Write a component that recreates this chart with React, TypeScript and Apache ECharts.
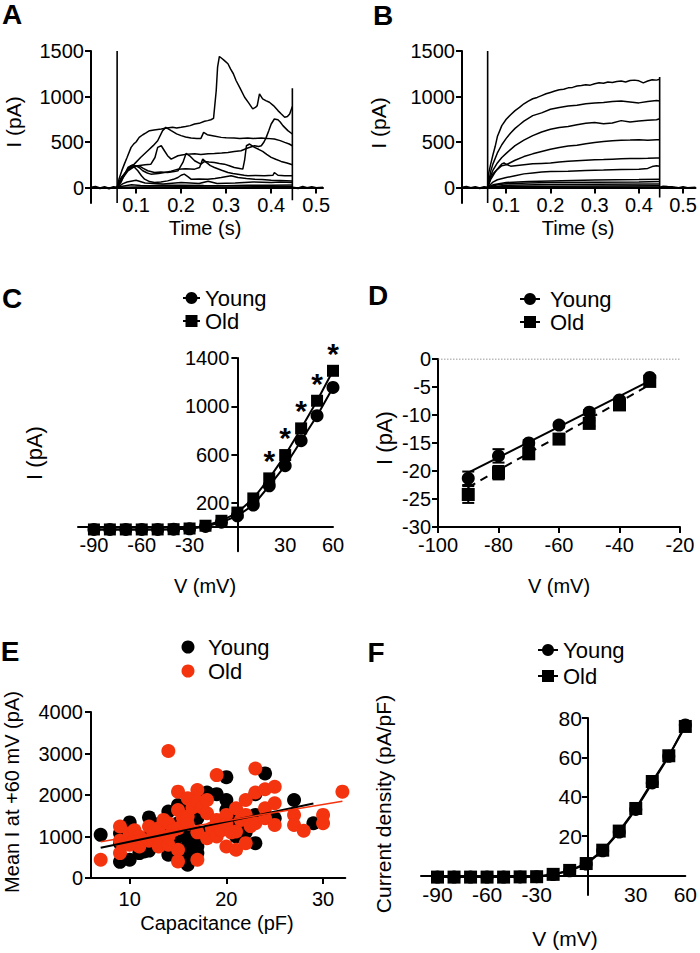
import React, { useEffect, useRef } from 'react';
import * as echarts from 'echarts';

const FONT = '"Liberation Sans", Arial, Helvetica, sans-serif';
const RED = '#f4330f';

// ---------- Panel A (young cell raw traces) ----------
const aTicksX = [0.1, 0.2, 0.3, 0.4, 0.5];
const aTicksY = [0, 500, 1000, 1500];
const aBaseline1 = [[0, 0], [0.01, 10], [0.02, -8], [0.03, 6], [0.04, -10], [0.05, 5], [0.058, 0]];
const aBaseline2 = [[0.447, 0], [0.46, -8], [0.47, 8], [0.48, -6], [0.49, 7], [0.5, -5], [0.515, 0]];
const aStimOn = [[0.058, -170], [0.058, 1500]];
const aStimOff = [[0.447, -140], [0.447, 1090]];
const aTrace1 = [[0.058, 0], [0.062, 90], [0.068, 180], [0.074, 257], [0.08, 330], [0.089, 441], [0.095, 480], [0.1, 500], [0.107, 551], [0.115, 580], [0.122, 600], [0.13, 625], [0.14, 632], [0.156, 643], [0.165, 650], [0.181, 662], [0.19, 655], [0.2, 662], [0.21, 670], [0.22, 680], [0.23, 698], [0.24, 705], [0.252, 728], [0.259, 735], [0.266, 745], [0.272, 760], [0.278, 1066], [0.281, 1323], [0.285, 1440], [0.29, 1420], [0.295, 1400], [0.304, 1360], [0.31, 1300], [0.316, 1250], [0.322, 1176], [0.33, 1100], [0.341, 992], [0.35, 930], [0.359, 864], [0.365, 880], [0.369, 900], [0.374, 1029], [0.381, 974], [0.388, 955], [0.396, 937], [0.405, 900], [0.415, 845], [0.422, 810], [0.43, 772], [0.436, 780], [0.441, 808], [0.447, 889]];
const aTrace2 = [[0.058, 0], [0.065, 80], [0.074, 147], [0.085, 210], [0.096, 257], [0.11, 330], [0.126, 404], [0.138, 460], [0.148, 514], [0.159, 625], [0.166, 661], [0.178, 625], [0.19, 590], [0.2, 570], [0.21, 556], [0.222, 544], [0.235, 540], [0.244, 540], [0.25, 606], [0.258, 580], [0.27, 570], [0.289, 551], [0.3, 548], [0.318, 544], [0.33, 540], [0.348, 544], [0.36, 538], [0.378, 544], [0.39, 540], [0.407, 533], [0.42, 515], [0.43, 496], [0.44, 478], [0.447, 459]];
const aTrace3 = [[0.058, 0], [0.07, 100], [0.082, 184], [0.093, 220], [0.104, 239], [0.12, 250], [0.133, 257], [0.142, 330], [0.148, 441], [0.156, 459], [0.163, 404], [0.17, 350], [0.178, 312], [0.193, 349], [0.205, 360], [0.215, 367], [0.23, 372], [0.244, 364], [0.26, 372], [0.274, 375], [0.29, 380], [0.304, 386], [0.318, 395], [0.333, 404], [0.348, 434], [0.363, 459], [0.372, 450], [0.378, 459], [0.384, 500], [0.389, 551], [0.395, 630], [0.4, 698], [0.407, 753], [0.415, 745], [0.42, 720], [0.426, 680], [0.432, 650], [0.437, 625], [0.447, 588]];
const aTrace4 = [[0.058, 0], [0.067, 110], [0.078, 170], [0.089, 220], [0.098, 235], [0.107, 239], [0.116, 210], [0.126, 184], [0.141, 165], [0.155, 170], [0.17, 165], [0.185, 175], [0.193, 184], [0.204, 276], [0.211, 375], [0.219, 349], [0.23, 294], [0.244, 257], [0.252, 287], [0.262, 280], [0.274, 276], [0.285, 265], [0.296, 257], [0.307, 240], [0.318, 220], [0.33, 210], [0.337, 202], [0.341, 300], [0.345, 459], [0.352, 478], [0.363, 441], [0.372, 420], [0.381, 397], [0.39, 365], [0.4, 331], [0.41, 310], [0.422, 287], [0.435, 270], [0.447, 250]];
const aTrace5 = [[0.058, 0], [0.066, 90], [0.074, 147], [0.082, 200], [0.089, 239], [0.1, 239], [0.108, 215], [0.115, 184], [0.125, 160], [0.133, 147], [0.15, 155], [0.163, 165], [0.178, 180], [0.193, 202], [0.21, 205], [0.23, 202], [0.241, 220], [0.248, 312], [0.256, 276], [0.265, 240], [0.274, 220], [0.29, 190], [0.304, 165], [0.315, 155], [0.326, 147], [0.34, 135], [0.348, 129], [0.365, 132], [0.385, 129], [0.404, 135], [0.407, 165], [0.415, 135], [0.43, 130], [0.447, 129]];
const aTrace6 = [[0.058, 0], [0.067, 60], [0.075, 150], [0.082, 220], [0.092, 250], [0.098, 215], [0.104, 184], [0.112, 130], [0.119, 92], [0.13, 65], [0.141, 55], [0.155, 62], [0.17, 73], [0.183, 90], [0.193, 110], [0.2, 135], [0.207, 147], [0.215, 120], [0.222, 92], [0.24, 95], [0.259, 92], [0.275, 100], [0.289, 110], [0.311, 129], [0.326, 110], [0.345, 100], [0.363, 92], [0.38, 88], [0.4, 81], [0.42, 78], [0.447, 73]];
const aTrace7 = [[0.058, 0], [0.07, 40], [0.08, 60], [0.1, 80], [0.12, 50], [0.14, 45], [0.16, 40], [0.18, 48], [0.2, 55], [0.22, 50], [0.24, 45], [0.26, 70], [0.28, 45], [0.3, 48], [0.32, 50], [0.34, 55], [0.36, 60], [0.38, 58], [0.4, 55], [0.42, 60], [0.447, 55]];
const aTrace8 = [[0.058, 0], [0.07, 15], [0.09, 30], [0.11, 22], [0.13, 20], [0.16, 24], [0.2, 25], [0.25, 22], [0.3, 20], [0.35, 24], [0.4, 25], [0.447, 28]];
const aTrace9 = [[0.058, 0], [0.1, 6], [0.2, 8], [0.3, 7], [0.447, 10]];

// ---------- Panel B (old cell raw traces) ----------
const bTicksX = [0.1, 0.2, 0.3, 0.4, 0.5];
const bTicksY = [0, 500, 1000, 1500];
const bBaseline1 = [[0, 0], [0.01, 8], [0.02, -6], [0.03, 7], [0.04, -8], [0.05, 6], [0.058, 0]];
const bBaseline2 = [[0.447, 0], [0.455, 12], [0.465, 8], [0.475, 5], [0.49, -5], [0.5, 6], [0.51, -4], [0.528, 0]];
const bStimOn = [[0.058, -170], [0.058, 1500]];
const bStimOff = [[0.447, -110], [0.447, 1215]];
const bTrace1 = [[0.058, 0], [0.06, 150], [0.065, 260], [0.07, 360], [0.075, 450], [0.08, 560], [0.09, 680], [0.1, 750], [0.11, 800], [0.12, 845], [0.13, 880], [0.14, 920], [0.15, 950], [0.16, 975], [0.17, 990], [0.18, 1010], [0.19, 1030], [0.2, 1045], [0.21, 1060], [0.22, 1075], [0.23, 1080], [0.24, 1095], [0.25, 1100], [0.26, 1115], [0.27, 1120], [0.28, 1130], [0.29, 1125], [0.3, 1140], [0.31, 1150], [0.32, 1145], [0.33, 1160], [0.34, 1155], [0.35, 1165], [0.36, 1170], [0.37, 1160], [0.38, 1175], [0.39, 1180], [0.4, 1172], [0.41, 1150], [0.42, 1170], [0.43, 1185], [0.44, 1180], [0.447, 1190]];
const bTrace2 = [[0.058, 0], [0.065, 180], [0.07, 260], [0.08, 380], [0.09, 470], [0.1, 540], [0.11, 600], [0.12, 650], [0.13, 690], [0.14, 730], [0.15, 760], [0.16, 790], [0.18, 820], [0.2, 860], [0.22, 880], [0.24, 895], [0.26, 905], [0.28, 920], [0.3, 930], [0.32, 935], [0.34, 945], [0.36, 950], [0.38, 940], [0.4, 930], [0.42, 945], [0.44, 955], [0.447, 950]];
const bTrace3 = [[0.058, 0], [0.065, 130], [0.07, 190], [0.08, 270], [0.09, 330], [0.1, 375], [0.12, 460], [0.14, 520], [0.16, 570], [0.18, 610], [0.2, 640], [0.22, 660], [0.24, 670], [0.26, 690], [0.28, 705], [0.3, 715], [0.32, 700], [0.34, 710], [0.36, 735], [0.38, 720], [0.4, 730], [0.42, 740], [0.44, 745], [0.447, 755]];
const bTrace4 = [[0.058, 0], [0.065, 110], [0.07, 150], [0.08, 200], [0.09, 240], [0.1, 250], [0.12, 300], [0.14, 340], [0.16, 370], [0.18, 395], [0.2, 420], [0.22, 440], [0.24, 455], [0.26, 465], [0.28, 480], [0.3, 495], [0.32, 505], [0.34, 515], [0.36, 520], [0.38, 522], [0.4, 525], [0.42, 520], [0.44, 525], [0.447, 525]];
const bTrace5 = [[0.058, 0], [0.065, 90], [0.075, 170], [0.085, 230], [0.09, 260], [0.095, 270], [0.1, 255], [0.11, 235], [0.12, 240], [0.14, 250], [0.16, 260], [0.18, 265], [0.2, 270], [0.22, 280], [0.24, 290], [0.26, 295], [0.28, 300], [0.3, 305], [0.32, 308], [0.34, 312], [0.36, 315], [0.38, 318], [0.4, 320], [0.42, 322], [0.44, 325], [0.447, 325]];
const bTrace6 = [[0.058, 0], [0.07, 60], [0.08, 85], [0.1, 110], [0.12, 130], [0.14, 150], [0.16, 160], [0.18, 170], [0.2, 175], [0.24, 180], [0.28, 188], [0.32, 192], [0.36, 198], [0.4, 202], [0.42, 210], [0.43, 230], [0.44, 240], [0.447, 235]];
const bTrace7 = [[0.058, 0], [0.07, 30], [0.1, 55], [0.15, 65], [0.2, 72], [0.25, 78], [0.3, 82], [0.35, 85], [0.4, 88], [0.447, 92]];
const bTrace8 = [[0.058, 0], [0.08, 30], [0.1, 42], [0.15, 50], [0.2, 55], [0.3, 58], [0.4, 62], [0.447, 66]];
const bTrace9 = [[0.058, 0], [0.1, 25], [0.2, 32], [0.3, 35], [0.447, 38]];
const bTrace10 = [[0.058, 0], [0.1, 12], [0.2, 15], [0.3, 18], [0.447, 20]];
const bTrace11 = [[0.058, 0], [0.2, 5], [0.447, 6]];

// ---------- Panel C (I-V, pA) ----------
const voltages = [-90, -80, -70, -60, -50, -40, -30, -20, -10, 0, 10, 20, 30, 40, 50, 60];
const cYoung = [-20, -20, -20, -20, -20, -18, -15, 5, 40, 93, 182, 342, 508, 715, 922, 1156];
const cOld = [-20, -20, -20, -20, -20, -18, -12, 11, 52, 120, 237, 403, 596, 817, 1046, 1294];
const cSignificant = [20, 30, 40, 50, 60];
const cTicksX = [-90, -60, -30, 30, 60];
const cTicksY = [200, 600, 1000, 1400];

// ---------- Panel D (hyperpolarised I-V) ----------
const dV = [-90, -80, -70, -60, -50, -40, -30];
const dYoung = [-21.3, -17.3, -15.0, -11.8, -9.5, -7.3, -3.3];
const dYoungErr = [1.2, 1.2, 0.5, 0.4, 0.4, 0.4, 0.4];
const dOld = [-24.2, -20.3, -16.9, -14.3, -11.5, -8.2, -4.0];
const dOldErr = [1.5, 1.2, 1.0, 0.5, 0.5, 0.6, 0.5];
const dYoungFit = [[-90, -20.3], [-30, -3.9]];
const dOldFit = [[-90, -22.9], [-30, -4.6]];
const dZero = [[-100, 0], [-20, 0]];
const dTicksX = [-100, -80, -60, -40, -20];
const dTicksY = [0, -5, -10, -15, -20, -25, -30];

// ---------- Panel E (current vs capacitance) ----------
const eYoung = [[7, 1040], [9, 390], [9, 840], [9, 1080], [10, 440], [10, 1340], [10, 900], [11, 600], [11, 920], [11.5, 640], [12, 660], [12, 1460], [12, 1000], [13, 1300], [13, 820], [13, 1100], [14, 560], [14, 1600], [14, 1200], [14, 900], [15, 1760], [15, 1320], [15, 1000], [15, 700], [16, 320], [16, 640], [16, 920], [16, 1640], [16, 1200], [16, 500], [17, 760], [17, 920], [17, 1440], [17, 600], [18, 2060], [18, 1100], [19, 2020], [19, 1250], [20, 2430], [20, 1880], [20, 1640], [20, 1200], [21, 1000], [21, 1260], [21, 1500], [22, 1100], [23, 840], [23, 2020], [23, 1520], [24, 2520], [25, 1440], [27, 1880], [29, 1320]];
const eOld = [[7, 440], [9, 1240], [9, 600], [9, 900], [10, 1080], [10, 800], [10.5, 1150], [11, 760], [11, 1000], [12, 1240], [12, 900], [12.5, 1100], [13, 960], [13, 760], [13, 1200], [13.5, 1400], [14, 3060], [14, 1320], [14, 1000], [14, 800], [14.5, 1150], [15, 2080], [15, 1640], [15, 680], [15, 400], [15, 1200], [15.5, 1450], [16, 1920], [16, 1480], [16, 1300], [16.5, 1700], [17, 2120], [17, 1840], [17, 440], [17, 1100], [17.5, 1700], [18, 1880], [18, 1560], [18, 960], [18.5, 1200], [19, 2480], [19, 1400], [19, 1000], [19.5, 1150], [20, 1520], [20, 760], [20, 1300], [20.5, 1100], [21, 1680], [21, 680], [21, 1120], [21.5, 1400], [22, 1880], [22, 840], [22, 1520], [22.5, 1250], [23, 2640], [23, 2060], [23, 1320], [24, 2140], [24, 1680], [24, 1440], [25, 2200], [25, 1800], [25, 1280], [27, 1520], [27, 1280], [28, 1140], [30, 1520], [30, 1320], [32, 2080]];
const eYoungFit = [[7, 728], [29, 1794]];
const eOldFit = [[7, 873], [32, 1850]];
const eTicksX = [10, 20, 30];
const eTicksY = [0, 1000, 2000, 3000, 4000];

// ---------- Panel F (current density) ----------
const fYoung = [-0.9, -0.9, -0.9, -0.9, -0.9, -0.8, -0.7, 0.4, 2.3, 5.7, 12.5, 22, 33.5, 47, 60.5, 76.5];
const fOld = [-0.9, -0.9, -0.9, -0.9, -0.9, -0.8, -0.7, 0.5, 2.5, 6, 12.8, 22.5, 34, 47.7, 60.8, 75.7];
const fTicksX = [-90, -60, -30, 30, 60];
const fTicksY = [20, 40, 60, 80];

const pairs = (xs: number[], ys: number[]) => xs.map((x, i) => [x, ys[i]]);

// grid geometry (pixels) and axis ranges
const GRIDS = [
  { left: 91, top: 51, width: 232, height: 152 },
  { left: 462, top: 51, width: 237.6, height: 152 },
  { left: 78, top: 358, width: 255, height: 193.2 },
  { left: 438, top: 359, width: 242, height: 168 },
  { left: 91, top: 712, width: 254.3, height: 166 },
  { left: 421, top: 718, width: 267, height: 177 },
];
const XR = [[0, 0.515], [0, 0.528], [-100, 60], [-100, -20], [6, 32.3], [-100, 60]];
const YR = [[-170, 1500], [-170, 1500], [-200, 1400], [-30, 0], [0, 4000], [-10, 80]];

// offset that puts an axis through the other axis' zero (labels move with it)
const xZeroOffset = (g: number) => {
  const [a, b] = YR[g];
  if (a >= 0 || b <= 0) return 0;
  return -GRIDS[g].height * (0 - a) / (b - a);
};
const yZeroOffset = (g: number) => {
  const [a, b] = XR[g];
  if (a >= 0 || b <= 0) return 0;
  return -GRIDS[g].width * (0 - a) / (b - a);
};

const axis = (fs: number, margin: number, vals: number[], ticks = true) => ({
  type: 'value',
  axisLine: { show: true, onZero: false, lineStyle: { color: '#000', width: 2 } },
  axisTick: { show: ticks, length: 6, customValues: vals, lineStyle: { color: '#000', width: 2 } },
  axisLabel: {
    show: true, customValues: vals, margin, color: '#000', fontSize: fs, fontFamily: FONT,
    formatter: (v: number) => String(v),
  },
  splitLine: { show: false },
});

const traceSeries = (data: number[][], g: number, w = 1.5) => ({
  type: 'line', data, xAxisIndex: g, yAxisIndex: g, symbol: 'none', silent: true,
  lineStyle: { color: '#000', width: w }, z: 3,
});

const txt = (text: string, x: number, y: number, fs: number, opts: any = {}) => ({
  type: 'text', x, y, rotation: opts.rotation || 0, z: 100,
  style: {
    text, fontSize: fs, fontFamily: FONT, fontWeight: opts.bold ? 'bold' : 'normal', fill: opts.fill || '#000',
    align: opts.align || 'center', verticalAlign: 'middle',
  },
});

const lineLegend = (x1: number, x2: number, y: number, marker: 'circle' | 'rect') => {
  const cx = (x1 + x2) / 2;
  const els: any[] = [{ type: 'line', z: 100, shape: { x1, y1: y, x2, y2: y }, style: { stroke: '#000', lineWidth: 2 } }];
  if (marker === 'circle') els.push({ type: 'circle', z: 101, shape: { cx, cy: y, r: 6 }, style: { fill: '#000' } });
  else els.push({ type: 'rect', z: 101, shape: { x: cx - 6, y: y - 6, width: 12, height: 12 }, style: { fill: '#000' } });
  return els;
};

export default function App() {
  const ref = useRef<HTMLDivElement>(null);
  useEffect(() => {
    const chart = echarts.init(ref.current!, null, { renderer: 'svg' });

    const errRender = (params: any, api: any) => {
      const x = api.value(0), y = api.value(1), e = api.value(2);
      const t = api.coord([x, y + e]);
      const b = api.coord([x, y - e]);
      const st = { stroke: '#000', lineWidth: 2 };
      return {
        type: 'group',
        children: [
          { type: 'line', shape: { x1: t[0], y1: t[1], x2: b[0], y2: b[1] }, style: st },
          { type: 'line', shape: { x1: t[0] - 6, y1: t[1], x2: t[0] + 6, y2: t[1] }, style: st },
          { type: 'line', shape: { x1: b[0] - 6, y1: b[1], x2: b[0] + 6, y2: b[1] }, style: st },
        ],
      };
    };

    const xFs = [20, 20, 20, 20, 20, 21];
    const xMargin = [7, 7, 8, 8, 11, 9];
    const yMargin = [7, 7, 8, 7, 8, 6];
    const xTicks = [aTicksX, bTicksX, cTicksX, dTicksX, eTicksX, fTicksX];
    const yTicks = [aTicksY, bTicksY, cTicksY, dTicksY, eTicksY, fTicksY];
    const xTickShow = [true, true, false, true, true, false];

    const option: any = {
      animation: false,
      backgroundColor: '#fff',
      grid: GRIDS,
      xAxis: GRIDS.map((_, g) => ({
        ...axis(xFs[g], xMargin[g], xTicks[g], xTickShow[g]),
        gridIndex: g, min: XR[g][0], max: XR[g][1], offset: xZeroOffset(g),
      })),
      yAxis: GRIDS.map((_, g) => ({
        ...axis(xFs[g], yMargin[g], yTicks[g], true),
        gridIndex: g, min: YR[g][0], max: YR[g][1], offset: yZeroOffset(g),
      })),
      series: [
        // A
        traceSeries(aBaseline1, 0, 2), traceSeries(aBaseline2, 0, 2),
        traceSeries(aStimOn, 0, 1.6), traceSeries(aStimOff, 0, 1.6),
        traceSeries(aTrace1, 0), traceSeries(aTrace2, 0), traceSeries(aTrace3, 0), traceSeries(aTrace4, 0),
        traceSeries(aTrace5, 0), traceSeries(aTrace6, 0), traceSeries(aTrace7, 0), traceSeries(aTrace8, 0), traceSeries(aTrace9, 0),
        // B
        traceSeries(bBaseline1, 1, 2), traceSeries(bBaseline2, 1, 2),
        traceSeries(bStimOn, 1, 1.6), traceSeries(bStimOff, 1, 1.6),
        traceSeries(bTrace1, 1), traceSeries(bTrace2, 1), traceSeries(bTrace3, 1), traceSeries(bTrace4, 1),
        traceSeries(bTrace5, 1), traceSeries(bTrace6, 1), traceSeries(bTrace7, 1), traceSeries(bTrace8, 1),
        traceSeries(bTrace9, 1), traceSeries(bTrace10, 1), traceSeries(bTrace11, 1),
        // C
        {
          type: 'line', name: 'Young', xAxisIndex: 2, yAxisIndex: 2, data: pairs(voltages, cYoung),
          symbol: 'circle', symbolSize: 13, itemStyle: { color: '#000' }, lineStyle: { color: '#000', width: 2 }, z: 3,
        },
        {
          type: 'line', name: 'Old', xAxisIndex: 2, yAxisIndex: 2, data: pairs(voltages, cOld),
          symbol: 'rect', symbolSize: 12, itemStyle: { color: '#000' }, lineStyle: { color: '#000', width: 2 }, z: 4,
        },
        {
          type: 'scatter', xAxisIndex: 2, yAxisIndex: 2, silent: true,
          data: cSignificant.map((v) => [v, cOld[voltages.indexOf(v)]]),
          symbol: 'circle', symbolSize: 1, itemStyle: { color: '#000', opacity: 0 },
          label: {
            show: true, formatter: '*', position: 'top', distance: 0, offset: [0, -2], color: '#000', opacity: 1,
            fontSize: 30, fontWeight: 'bold', fontFamily: FONT, textBorderWidth: 0, textBorderColor: 'transparent',
          },
          z: 5,
        },
        // D
        {
          type: 'line', xAxisIndex: 3, yAxisIndex: 3, data: dZero, symbol: 'none', silent: true,
          lineStyle: { color: '#777', width: 1, type: [1.5, 1.5] }, z: 2,
        },
        {
          type: 'line', xAxisIndex: 3, yAxisIndex: 3, data: dYoungFit, symbol: 'none', silent: true,
          lineStyle: { color: '#000', width: 2 }, z: 3,
        },
        {
          type: 'line', xAxisIndex: 3, yAxisIndex: 3, data: dOldFit, symbol: 'none', silent: true,
          lineStyle: { color: '#000', width: 2, type: [8, 6] }, z: 3,
        },
        {
          type: 'custom', xAxisIndex: 3, yAxisIndex: 3, renderItem: errRender, silent: true,
          data: dV.map((v, i) => [v, dYoung[i], dYoungErr[i]]), z: 4,
        },
        {
          type: 'custom', xAxisIndex: 3, yAxisIndex: 3, renderItem: errRender, silent: true,
          data: dV.map((v, i) => [v, dOld[i], dOldErr[i]]), z: 4,
        },
        {
          type: 'scatter', xAxisIndex: 3, yAxisIndex: 3, data: pairs(dV, dYoung), symbol: 'circle', symbolSize: 13,
          itemStyle: { color: '#000', opacity: 1 }, z: 5,
        },
        {
          type: 'scatter', xAxisIndex: 3, yAxisIndex: 3, data: pairs(dV, dOld), symbol: 'rect', symbolSize: 13,
          itemStyle: { color: '#000', opacity: 1 }, z: 5,
        },
        // E
        {
          type: 'scatter', xAxisIndex: 4, yAxisIndex: 4, data: eYoung, symbol: 'circle', symbolSize: 14,
          itemStyle: { color: '#000', opacity: 1 }, z: 3,
        },
        {
          type: 'scatter', xAxisIndex: 4, yAxisIndex: 4, data: eOld, symbol: 'circle', symbolSize: 14,
          itemStyle: { color: RED, opacity: 1 }, z: 4,
        },
        {
          type: 'line', xAxisIndex: 4, yAxisIndex: 4, data: eYoungFit, symbol: 'none', silent: true,
          lineStyle: { color: '#000', width: 2 }, z: 5,
        },
        {
          type: 'line', xAxisIndex: 4, yAxisIndex: 4, data: eOldFit, symbol: 'none', silent: true,
          lineStyle: { color: RED, width: 1.6 }, z: 5,
        },
        // F
        {
          type: 'line', xAxisIndex: 5, yAxisIndex: 5, data: pairs(voltages, fYoung),
          symbol: 'circle', symbolSize: 13, itemStyle: { color: '#000' }, lineStyle: { color: '#000', width: 2 }, z: 3,
        },
        {
          type: 'line', xAxisIndex: 5, yAxisIndex: 5, data: pairs(voltages, fOld),
          symbol: 'rect', symbolSize: 13, itemStyle: { color: '#000' }, lineStyle: { color: '#000', width: 2 }, z: 4,
        },
      ],
      graphic: [
        // panel letters
        txt('A', 12, 14, 28, { bold: true }),
        txt('B', 383, 15, 28, { bold: true }),
        txt('C', 12, 298, 28, { bold: true }),
        txt('D', 378, 295, 28, { bold: true }),
        txt('E', 10, 651, 28, { bold: true }),
        txt('F', 376, 652, 28, { bold: true }),
        // axis titles
        txt('I (pA)', 13, 122, 21, { rotation: Math.PI / 2 }),
        txt('Time (s)', 205, 228, 20),
        txt('I (pA)', 378, 123, 21, { rotation: Math.PI / 2 }),
        txt('Time (s)', 578, 228, 20),
        txt('I (pA)', 34, 453, 22, { rotation: Math.PI / 2 }),
        txt('V (mV)', 205, 586, 20),
        txt('I (pA)', 384, 438, 22, { rotation: Math.PI / 2 }),
        txt('V (mV)', 559, 586, 20),
        txt('Mean I at +60 mV (pA)', 12, 792, 20, { rotation: Math.PI / 2 }),
        txt('Capacitance (pF)', 217, 923, 20),
        txt('Current density (pA/pF)', 383, 804, 21, { rotation: Math.PI / 2 }),
        txt('V (mV)', 565, 938, 21),
        // legend C
        ...lineLegend(183, 200, 298, 'circle'),
        ...lineLegend(183, 200, 321, 'rect'),
        txt('Young', 205, 298, 22, { align: 'left' }),
        txt('Old', 205, 321, 22, { align: 'left' }),
        // legend D
        ...lineLegend(520, 540, 299, 'circle'),
        ...lineLegend(520, 540, 322, 'rect'),
        txt('Young', 550, 299, 22, { align: 'left' }),
        txt('Old', 550, 322, 22, { align: 'left' }),
        // legend E
        { type: 'circle', z: 100, shape: { cx: 188, cy: 647, r: 6.5 }, style: { fill: '#000' } },
        { type: 'circle', z: 100, shape: { cx: 188, cy: 671, r: 6.5 }, style: { fill: RED } },
        txt('Young', 208, 647, 22, { align: 'left' }),
        txt('Old', 208, 671, 22, { align: 'left' }),
        // legend F
        ...lineLegend(538, 558, 650, 'circle'),
        ...lineLegend(538, 558, 676, 'rect'),
        txt('Young', 563, 650, 22, { align: 'left' }),
        txt('Old', 563, 676, 22, { align: 'left' }),
      ],
    };
    chart.setOption(option);
    return () => chart.dispose();
  }, []);
  return <div ref={ref} style={{ position: 'absolute', left: 0, top: 0, width: 700, height: 953, background: '#fff' }} />;
}
